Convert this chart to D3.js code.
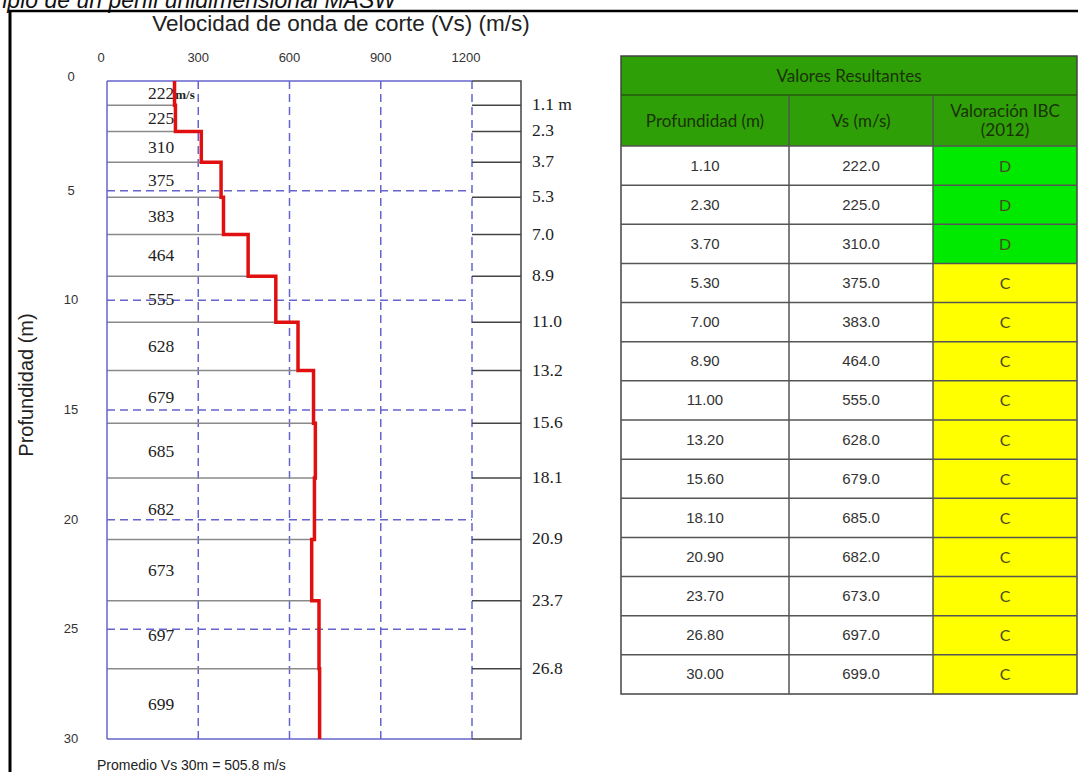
<!DOCTYPE html>
<html>
<head>
<meta charset="utf-8">
<script src="https://cdn.jsdelivr.net/npm/d3@7"></script>
<style>
  html, body { margin: 0; padding: 0; background: #fff; overflow: hidden; }
  svg { display: block; }
</style>
</head>
<body>
<svg id="chart" width="1078" height="772"></svg>
<script>
// ---------- data ----------
const layerBottoms = [1.1, 2.3, 3.7, 5.3, 7.0, 8.9, 11.0, 13.2, 15.6, 18.1, 20.9, 23.7, 26.8, 30.0];
const vsValues     = [222, 225, 310, 375, 383, 464, 555, 628, 679, 685, 682, 673, 697, 699];
const ibcClass     = ["D", "D", "D", "C", "C", "C", "C", "C", "C", "C", "C", "C", "C", "C"];
const xTicks = [0, 300, 600, 900, 1200];
const yTicks = [0, 5, 10, 15, 20, 25, 30];
const depthLabels = ["1.1 m", "2.3", "3.7", "5.3", "7.0", "8.9", "11.0", "13.2", "15.6", "18.1", "20.9", "23.7", "26.8"];
const tableHeaders = ["Profundidad (m)", "Vs (m/s)", "Valoración IBC|(2012)"];
const tableTitle = "Valores Resultantes";
const chartTitle = "Velocidad de onda de corte (Vs) (m/s)";
const topCaption = "Ejemplo de un perfil unidimensional MASW";
const yAxisTitle = "Profundidad (m)";
const averageText = "Promedio Vs 30m = 505.8 m/s";
const classColors = { D: "#00ea00", C: "#ffff00" };

// ---------- setup ----------
const svg = d3.select("#chart");
const sans = "'Liberation Sans', Arial, sans-serif";
const serif = "'Liberation Serif', 'Times New Roman', serif";
const calib = "Lato, 'Open Sans', sans-serif";

const x = d3.scaleLinear().domain([0, 1200]).range([107, 472]);
const y = d3.scaleLinear().domain([0, 30]).range([81, 739]);
const boxRight = x(1200) + 49;
const blue = "#6464cc";

// top caption (partly cut off at the top, as in the source)
svg.append("text").attr("x", 396).attr("y", 8).attr("text-anchor", "end")
  .attr("font-family", sans).attr("font-style", "italic").attr("font-size", 23)
  .attr("fill", "#111").text(topCaption);

// frame
svg.append("line").attr("x1", 9).attr("x2", 1078).attr("y1", 11).attr("y2", 11)
  .attr("stroke", "#000").attr("stroke-width", 2.5);
svg.append("line").attr("x1", 10).attr("x2", 10).attr("y1", 10).attr("y2", 772)
  .attr("stroke", "#000").attr("stroke-width", 3);

// title
svg.append("text").attr("x", 341).attr("y", 31).attr("text-anchor", "middle")
  .attr("font-family", sans).attr("font-size", 22.5).attr("fill", "#222").text(chartTitle);

// x tick labels
svg.append("g").selectAll("text").data(xTicks).join("text")
  .attr("x", d => x(d) - (d === 0 ? 6 : d === 1200 ? 6 : 0)).attr("y", 62)
  .attr("text-anchor", "middle").attr("font-family", sans).attr("font-size", 13)
  .attr("fill", "#333").text(d => d);

// y tick labels
svg.append("g").selectAll("text").data(yTicks).join("text")
  .attr("x", 71).attr("y", d => y(d) + (d === 0 ? 0 : 4))
  .attr("text-anchor", "middle").attr("font-family", sans).attr("font-size", 13)
  .attr("fill", "#333").text(d => d);

// y axis title
svg.append("text").attr("transform", "translate(33,385) rotate(-90)")
  .attr("text-anchor", "middle").attr("font-family", sans).attr("font-size", 20)
  .attr("fill", "#222").text(yAxisTitle);

// grid (dashed)
const grid = svg.append("g").attr("stroke", blue).attr("stroke-width", 1.5)
  .attr("stroke-dasharray", "8,5");
grid.selectAll("line.v").data(xTicks.filter(d => d > 0)).join("line").attr("class", "v")
  .attr("x1", d => x(d)).attr("x2", d => x(d)).attr("y1", y(0)).attr("y2", y(30));
grid.selectAll("line.h").data(yTicks.filter(d => d > 0 && d < 30)).join("line").attr("class", "h")
  .attr("x1", x(0)).attr("x2", x(1200)).attr("y1", d => y(d)).attr("y2", d => y(d));

// layer boundary lines (grey) from 0 to Vs of layer above
const layers = layerBottoms.map((b, i) => ({
  top: i === 0 ? 0 : layerBottoms[i - 1], bottom: b, vs: vsValues[i], cls: ibcClass[i]
}));
svg.append("g").selectAll("line").data(layers.slice(0, -1)).join("line")
  .attr("x1", x(0)).attr("x2", d => x(d.vs)).attr("y1", d => y(d.bottom)).attr("y2", d => y(d.bottom))
  .attr("stroke", "#8a8a8a").attr("stroke-width", 1.5);

// right tick lines + labels
const rt = svg.append("g");
rt.selectAll("line").data(layers.slice(0, -1)).join("line")
  .attr("x1", x(1200)).attr("x2", boxRight).attr("y1", d => y(d.bottom)).attr("y2", d => y(d.bottom))
  .attr("stroke", "#444").attr("stroke-width", 1.5);
rt.selectAll("text").data(depthLabels).join("text")
  .attr("x", boxRight + 11).attr("y", (d, i) => y(layerBottoms[i]) + 5)
  .attr("font-family", serif).attr("font-size", 17.5).attr("fill", "#222").text(d => d);

// box outline
svg.append("line").attr("x1", x(0)).attr("x2", x(0)).attr("y1", y(0)).attr("y2", y(30))
  .attr("stroke", blue).attr("stroke-width", 1.5);
svg.append("line").attr("x1", x(0)).attr("x2", x(1200)).attr("y1", y(0)).attr("y2", y(0))
  .attr("stroke", blue).attr("stroke-width", 1.5);
svg.append("line").attr("x1", x(0)).attr("x2", x(1200)).attr("y1", y(30)).attr("y2", y(30))
  .attr("stroke", blue).attr("stroke-width", 1.5);
svg.append("path")
  .attr("d", `M${x(1200)},${y(0)}H${boxRight}V${y(30)}H${x(1200)}`)
  .attr("fill", "none").attr("stroke", "#444").attr("stroke-width", 1.5);

// layer Vs labels
const lab = svg.append("g").selectAll("text").data(layers).join("text")
  .attr("x", 148).attr("y", d => (y(d.top) + y(d.bottom)) / 2 + 6)
  .attr("font-family", serif).attr("font-size", 17.5).attr("fill", "#222");
lab.text(d => d.vs);
lab.filter((d, i) => i === 0).append("tspan").attr("font-size", 13).attr("font-weight", "bold")
  .attr("dx", 1).text("m/s");

// red step profile
const pts = [];
layers.forEach(d => { pts.push([d.vs, d.top]); pts.push([d.vs, d.bottom]); });
svg.append("path").datum(pts)
  .attr("d", d3.line().x(d => x(d[0])).y(d => y(d[1])))
  .attr("fill", "none").attr("stroke", "#e01010").attr("stroke-width", 3.5);

// average text
svg.append("text").attr("x", 97).attr("y", 770)
  .attr("font-family", sans).attr("font-size", 14).attr("fill", "#222").text(averageText);

// ---------- table ----------
const tx0 = 621, tx1 = 789, tx2 = 933, tx3 = 1077;
const colX = [tx0, tx1, tx2, tx3];
const h1Top = 56, h1Bot = 95, h2Bot = 146;
const rowH = (694 - h2Bot) / layers.length;
const tb = svg.append("g");
const green = "#2e9f06";
tb.append("rect").attr("x", tx0).attr("y", h1Top).attr("width", tx3 - tx0).attr("height", h2Bot - h1Top)
  .attr("fill", green);
tb.append("text").attr("x", (tx0 + tx3) / 2).attr("y", (h1Top + h1Bot) / 2 + 6)
  .attr("text-anchor", "middle").attr("font-family", calib).attr("font-size", 17)
  .attr("fill", "#1b3208").text(tableTitle);
tableHeaders.forEach((h, i) => {
  const parts = h.split("|");
  const cx = (colX[i] + colX[i + 1]) / 2;
  const cy = (h1Bot + h2Bot) / 2;
  parts.forEach((p, j) => {
    tb.append("text").attr("x", cx).attr("y", cy + 6 + (j - (parts.length - 1) / 2) * 19)
      .attr("text-anchor", "middle").attr("font-family", calib).attr("font-size", 17)
      .attr("fill", "#1b3208").text(p);
  });
});
const rows = tb.selectAll("g.row").data(layers).join("g").attr("class", "row")
  .attr("transform", (d, i) => `translate(0,${h2Bot + i * rowH})`);
rows.append("rect").attr("x", tx2).attr("y", 0).attr("width", tx3 - tx2).attr("height", rowH)
  .attr("fill", d => classColors[d.cls]);
rows.append("text").attr("x", (tx0 + tx1) / 2).attr("y", rowH / 2 + 5).attr("text-anchor", "middle")
  .attr("font-family", sans).attr("font-size", 15).attr("fill", "#333").text(d => d.bottom.toFixed(2));
rows.append("text").attr("x", (tx1 + tx2) / 2).attr("y", rowH / 2 + 5).attr("text-anchor", "middle")
  .attr("font-family", sans).attr("font-size", 15).attr("fill", "#333").text(d => d.vs.toFixed(1));
rows.append("text").attr("x", (tx2 + tx3) / 2).attr("y", rowH / 2 + 6).attr("text-anchor", "middle")
  .attr("font-family", calib).attr("font-size", 16).attr("fill", "#4a4a20").text(d => d.cls);
// grid lines of table
const tl = tb.append("g").attr("stroke", "#555").attr("stroke-width", 1.5).attr("fill", "none");
tl.append("rect").attr("x", tx0).attr("y", h1Top).attr("width", tx3 - tx0).attr("height", 694 - h1Top)
  .attr("stroke", "#444");
tl.append("line").attr("x1", tx0).attr("x2", tx3).attr("y1", h1Bot).attr("y2", h1Bot).attr("stroke", "#265a10");
tl.selectAll("line.rh").data(d3.range(0, layers.length)).join("line").attr("class", "rh")
  .attr("x1", tx0).attr("x2", tx3).attr("y1", i => h2Bot + i * rowH).attr("y2", i => h2Bot + i * rowH);
tl.selectAll("line.cv").data([tx1, tx2]).join("line").attr("class", "cv")
  .attr("x1", d => d).attr("x2", d => d).attr("y1", h1Bot).attr("y2", 694);
</script>
</body>
</html>
